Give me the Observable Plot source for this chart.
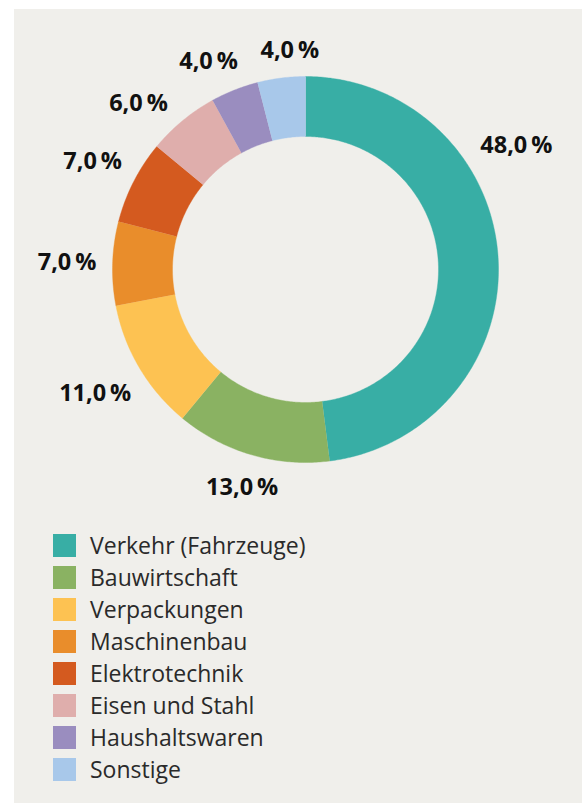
<!DOCTYPE html>
<html><head><meta charset="utf-8">
<script src="https://cdn.jsdelivr.net/npm/d3@7"></script>
<script src="https://cdn.jsdelivr.net/npm/@observablehq/plot@0.6"></script>
<style>
html,body{margin:0;padding:0;background:#fff;}
#panel{position:absolute;left:14px;top:9px;width:568px;height:794px;background:#f0efeb;font-family:"Open Sans",sans-serif;}
#chart{position:absolute;left:0;top:0;}
#legend{position:absolute;left:39px;top:520px;}
.row{display:flex;align-items:center;height:32px;}
.sw{width:23px;height:23px;margin-right:14px;flex:none;}
.lab{font-size:23px;color:#2a2a2a;line-height:32px;white-space:nowrap;}
</style></head><body>
<div id="panel"><div id="chart"></div><div id="legend"></div></div>
<script>
// ---- data ----
const categories = ["Verkehr (Fahrzeuge)","Bauwirtschaft","Verpackungen","Maschinenbau","Elektrotechnik","Eisen und Stahl","Haushaltswaren","Sonstige"];
const shares = [48.0, 13.0, 11.0, 7.0, 7.0, 6.0, 4.0, 4.0];
const colors = ["#38aea5","#8ab262","#fdc252","#e98d2b","#d45a1f","#dfaeac","#9a8dbf","#a8c8ea"];

// ---- layout ----
const W = 568, H = 520;
const cx = 291, cy = 260;
const R = 193, r0 = 133;
const fontSize = 23.5;

const total = d3.sum(shares);
let acc = 0;
const slices = categories.map((name, i) => {
  const a0 = acc / total * 2 * Math.PI;
  acc += shares[i];
  const a1 = acc / total * 2 * Math.PI;
  return {name, value: shares[i], a0, a1};
});

// polygon points for each ring slice
const pts = [];
for (const s of slices) {
  const n = Math.max(8, Math.ceil((s.a1 - s.a0) / 0.01));
  for (let k = 0; k <= n; k++) {
    const a = s.a0 + (s.a1 - s.a0) * k / n;
    pts.push({name: s.name, x: R * Math.sin(a), y: -R * Math.cos(a)});
  }
  for (let k = n; k >= 0; k--) {
    const a = s.a0 + (s.a1 - s.a0) * k / n;
    pts.push({name: s.name, x: r0 * Math.sin(a), y: -r0 * Math.cos(a)});
  }
}

// labels
const ctx = document.createElement("canvas").getContext("2d");
ctx.font = `700 ${fontSize}px "Open Sans"`;
const fmt = v => v.toFixed(1).replace(".", ",") + "\u2009%";
const h = fontSize * 0.72;
const labels = slices.map(s => {
  const span = s.a1 - s.a0;
  const a = s.a0 + span * (span > Math.PI / 2 ? 0.345 : 0.5);
  const text = fmt(s.value);
  return {text, a, w: ctx.measureText(text).width};
});
function place(l) {
  const ext = Math.abs(Math.sin(l.a)) * l.w / 2 + Math.abs(Math.cos(l.a)) * h / 2;
  const d = R + 16 + ext;
  l.x = d * Math.sin(l.a); l.y = -d * Math.cos(l.a);
}
labels.forEach(place);
// push neighbouring labels apart until they keep a gap
const padX = 22, padY = 24;
for (let it = 0; it < 600; it++) {
  let moved = false;
  for (let i = 0; i < labels.length; i++) {
    const A = labels[i], B = labels[(i + 1) % labels.length];
    const ox = (A.w + B.w) / 2 + padX - Math.abs(A.x - B.x);
    const oy = h + padY - Math.abs(A.y - B.y);
    if (ox > 0 && oy > 0) {
      A.a -= 0.002; B.a += 0.001; place(A); place(B); moved = true;
    }
  }
  if (!moved) break;
}

const chart = Plot.plot({
  width: W, height: H,
  margin: 0,
  style: {fontFamily: '"Open Sans", sans-serif', background: "transparent", overflow: "visible"},
  x: {domain: [-cx, W - cx], range: [0, W], axis: null},
  y: {domain: [-cy, H - cy], range: [0, H], axis: null},
  color: {domain: categories, range: colors},
  marks: [
    Plot.line(pts, {x: "x", y: "y", z: "name", fill: "name", stroke: "name", strokeWidth: 0.4, curve: "linear"}),
    Plot.text(labels, {x: "x", y: "y", text: "text", fontSize, fontWeight: 700, fill: "#111"})
  ]
});
document.getElementById("chart").appendChild(chart);

const leg = document.getElementById("legend");
categories.forEach((c, i) => {
  const row = document.createElement("div");
  row.className = "row";
  row.innerHTML = `<div class="sw" style="background:${colors[i]}"></div><div class="lab">${c}</div>`;
  leg.appendChild(row);
});
</script>
</body></html>
